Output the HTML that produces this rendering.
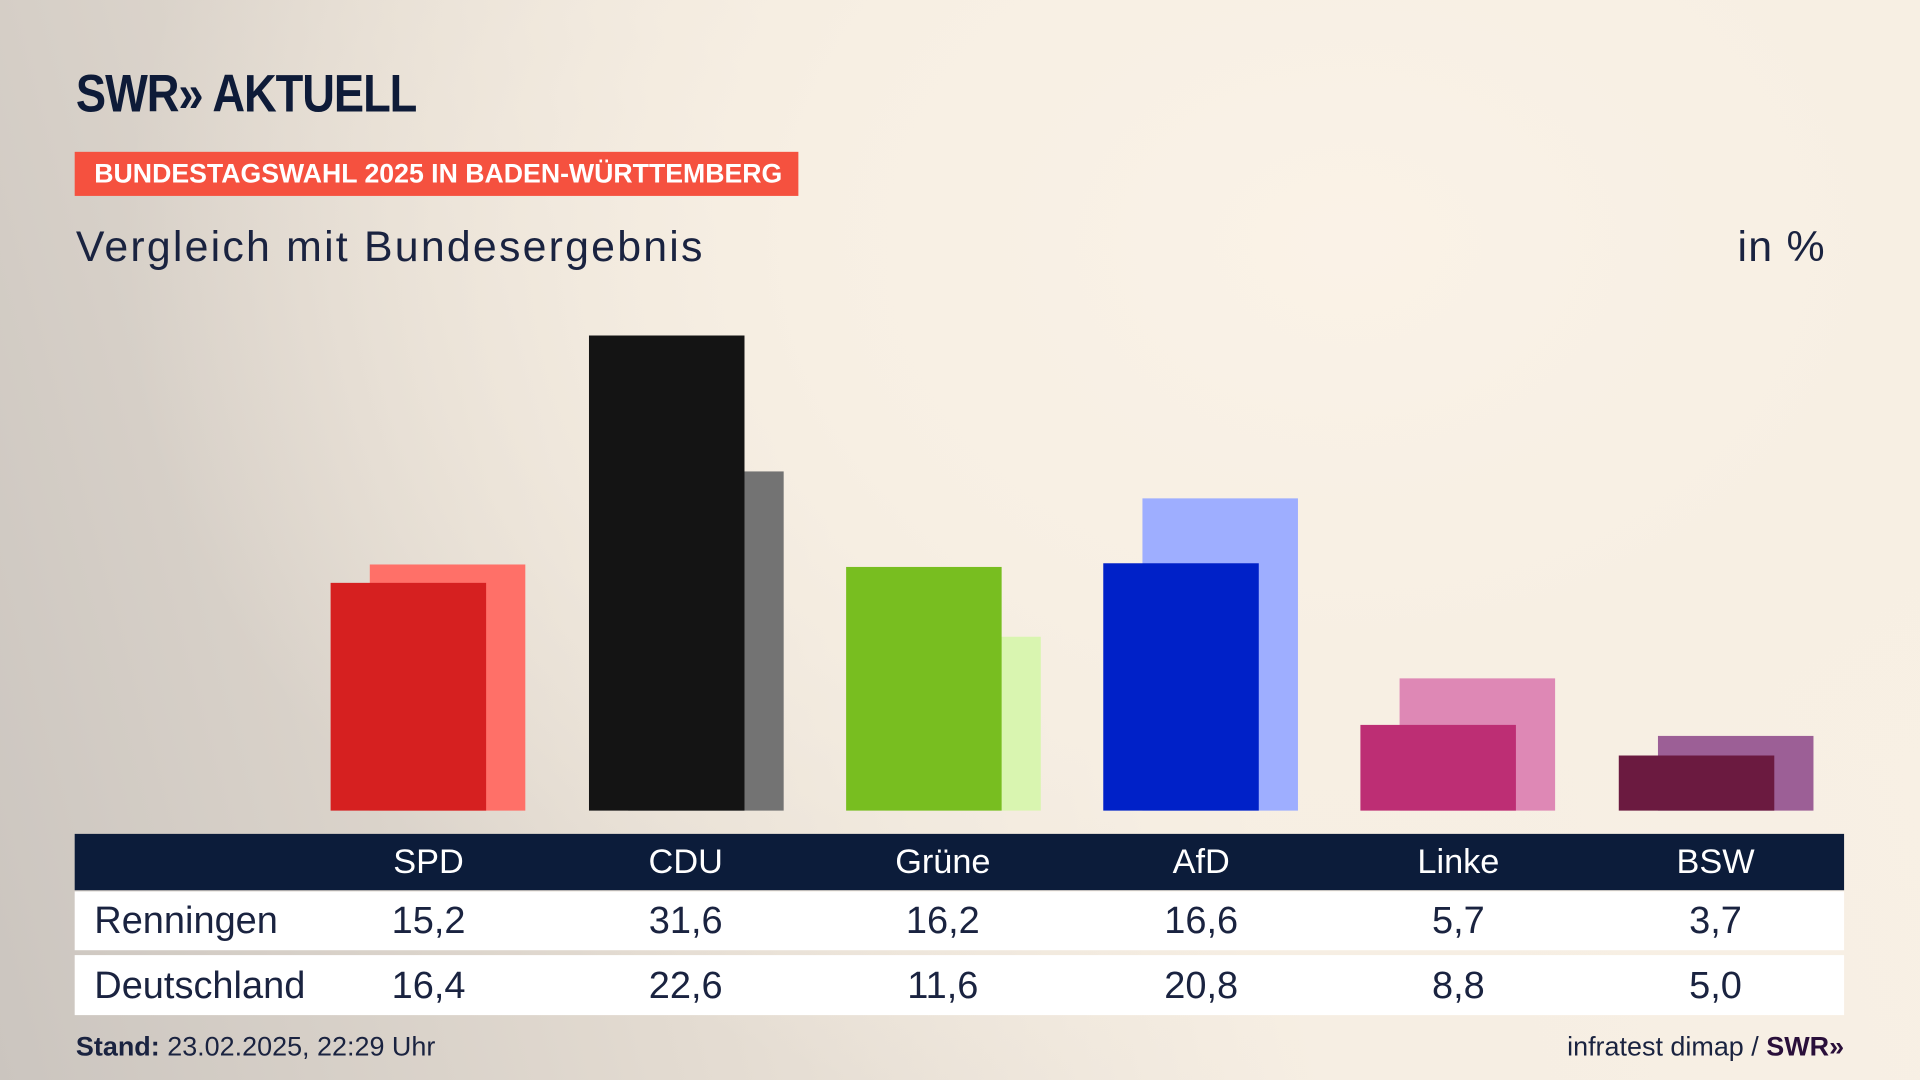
<!DOCTYPE html>
<html><head><meta charset="utf-8"><style>
html,body{margin:0;padding:0;width:1920px;height:1080px;overflow:hidden}
body{background:#f8f0e4}
#s{position:absolute;left:0;top:0;width:1568px;height:882px;transform:scale(1.22449);transform-origin:0 0;
background:radial-gradient(ellipse 1000px 750px at 1100px 200px,#faf2e7 0%,#f7efe3 45%,rgba(247,239,227,0) 100%),linear-gradient(75deg,#cbc5bf 0%,#e2dad0 30%,#f6eee3 60%,#f8f0e4 100%);
font-family:"Liberation Sans",sans-serif;color:#0e1b38}
.a{position:absolute}
.hd{position:absolute;top:681px;left:61px;width:1445px;height:46px;background:#0c1c3a}
.r{position:absolute;left:61px;width:1445px;background:#fff}
.c{position:absolute;width:160px;text-align:center;margin-left:-80px}
</style></head><body><div id="s">
<div class="a" style="left:62px;top:53px;font-size:43px;font-weight:bold;transform:scaleX(0.86);transform-origin:0 0;letter-spacing:-1px;white-space:nowrap">SWR» AKTUELL</div>
<div class="a" style="left:61px;top:124px;width:591px;height:36px;background:#f5513f"></div>
<div class="a" style="left:77px;top:129px;font-size:22px;font-weight:bold;color:#fff;white-space:nowrap;transform:scaleX(0.99);transform-origin:0 0">BUNDESTAGSWAHL 2025 IN BADEN-WÜRTTEMBERG</div>
<div class="a" style="left:62px;top:182px;font-size:35px;color:#1a2340;white-space:nowrap;letter-spacing:1.8px">Vergleich mit Bundesergebnis</div>
<div class="a" style="left:1419px;top:182px;font-size:35px;color:#1a2340;letter-spacing:1px">in %</div>

<div class="a" style="left:302px;top:461px;width:127px;height:201px;background:#ff7068"></div>
<div class="a" style="left:270px;top:476px;width:127px;height:186px;background:#d62020"></div>
<div class="a" style="left:513px;top:385px;width:127px;height:277px;background:#737373"></div>
<div class="a" style="left:481px;top:274px;width:127px;height:388px;background:#141414"></div>
<div class="a" style="left:723px;top:520px;width:127px;height:142px;background:#d9f5b0"></div>
<div class="a" style="left:691px;top:463px;width:127px;height:199px;background:#78be20"></div>
<div class="a" style="left:933px;top:407px;width:127px;height:255px;background:#9eaeff"></div>
<div class="a" style="left:901px;top:460px;width:127px;height:202px;background:#0021c8"></div>
<div class="a" style="left:1143px;top:554px;width:127px;height:108px;background:#de88b5"></div>
<div class="a" style="left:1111px;top:592px;width:127px;height:70px;background:#bd2e74"></div>
<div class="a" style="left:1354px;top:601px;width:127px;height:61px;background:#9c5f96"></div>
<div class="a" style="left:1322px;top:617px;width:127px;height:45px;background:#6b1a40"></div>

<div class="hd"></div>
<div class="r" style="top:728px;height:48px"></div>
<div class="r" style="top:780px;height:49px"></div>
<div class="a" style="top:688px;left:0;width:1568px;font-size:28px;color:#fff">
<div class="c" style="left:350px">SPD</div><div class="c" style="left:560px">CDU</div><div class="c" style="left:770px">Grüne</div><div class="c" style="left:981px">AfD</div><div class="c" style="left:1191px">Linke</div><div class="c" style="left:1401px">BSW</div></div>
<div class="a" style="top:734px;left:0;width:1568px;font-size:31px;color:#1a2340">
<div class="a" style="left:77px">Renningen</div>
<div class="c" style="left:350px">15,2</div><div class="c" style="left:560px">31,6</div><div class="c" style="left:770px">16,2</div><div class="c" style="left:981px">16,6</div><div class="c" style="left:1191px">5,7</div><div class="c" style="left:1401px">3,7</div></div>
<div class="a" style="top:787px;left:0;width:1568px;font-size:31px;color:#1a2340">
<div class="a" style="left:77px">Deutschland</div>
<div class="c" style="left:350px">16,4</div><div class="c" style="left:560px">22,6</div><div class="c" style="left:770px">11,6</div><div class="c" style="left:981px">20,8</div><div class="c" style="left:1191px">8,8</div><div class="c" style="left:1401px">5,0</div></div>

<div class="a" style="left:62px;top:842px;font-size:22px;color:#1a2340;white-space:nowrap"><b>Stand:</b> 23.02.2025, 22:29 Uhr</div>
<div class="a" style="right:62px;top:842px;font-size:22px;color:#1a2340;white-space:nowrap">infratest dimap / <b style="color:#2a0f3a">SWR»</b></div>
</div></body></html>
